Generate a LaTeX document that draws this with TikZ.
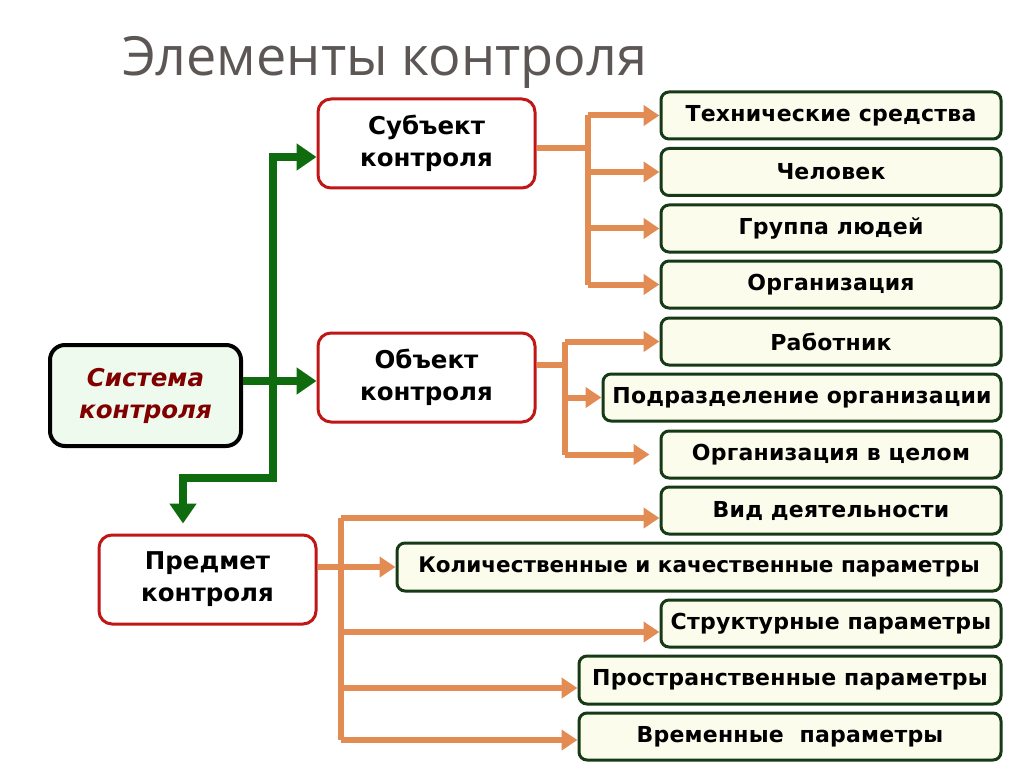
\documentclass[tikz,border=0pt]{standalone}
\usepackage{fontspec}
\setmainfont{DejaVu Sans}
\newfontfamily\titlefont{Open Sans}
\newfontfamily\boxfont[LetterSpace=1]{DejaVu Sans}
\newfontfamily\midfont{DejaVu Sans}
\usetikzlibrary{arrows.meta}
\definecolor{ora}{RGB}{226,140,84}
\definecolor{grn}{RGB}{14,108,14}
\definecolor{dgrn}{RGB}{22,58,22}
\definecolor{rbord}{RGB}{192,22,22}
\definecolor{cream}{RGB}{252,252,236}
\definecolor{lgrn}{RGB}{238,250,238}
\definecolor{dred}{RGB}{128,0,0}
\definecolor{ttl}{RGB}{92,86,84}
\tikzset{
  leaf/.style={draw=dgrn, line width=3pt, fill=cream, rounded corners=8pt, inner sep=0pt,
    font=\boxfont\fontsize{22}{26}\selectfont\bfseries, text=black},
  mid/.style={draw=rbord, line width=3pt, fill=white, rounded corners=13pt, inner sep=0pt,
    minimum width=217pt, minimum height=89pt, align=center,
    font=\midfont\fontsize{24.5}{32}\selectfont\bfseries, text=black},
  sysbox/.style={draw=black, line width=4pt, fill=lgrn, rounded corners=15pt, inner sep=0pt,
    minimum width=191pt, minimum height=101pt, align=center,
    font=\midfont\fontsize{24.5}{32}\selectfont\bfseries\itshape, text=dred},
  oline/.style={draw=ora, line width=6pt},
  oarr/.style={draw=ora, line width=6pt, -{Triangle[length=16pt,width=20pt]}},
  gline/.style={draw=grn, line width=8pt},
  garr/.style={draw=grn, line width=8pt, -{Triangle[length=20pt,width=26pt]}},
}
\begin{document}
\begin{tikzpicture}[x=1pt,y=-1pt]
\useasboundingbox[fill=white] (0,0) rectangle (1024,767);
\node[anchor=base west, text=ttl, font=\titlefont\fontsize{54}{60}\selectfont, inner sep=0pt] (title) at (122,76) {Элементы контроля};

\node[sysbox] (sys) at (145.5,395.5) {Система\\контроля};
\node[mid] (subj) at (426.5,143.5) {Субъект\\контроля};
\node[mid] (obj) at (426.5,377.5) {Объект\\контроля};
\node[mid] (pred) at (207.5,579.5) {Предмет\\контроля};

\node[leaf, minimum width=340pt, minimum height=47pt] (t1) at (831,115.5) {Технические средства};
\node[leaf, minimum width=340pt, minimum height=47pt] (t2) at (831,172) {Человек};
\node[leaf, minimum width=340pt, minimum height=47pt] (t3) at (831,228.5) {Группа людей};
\node[leaf, minimum width=340pt, minimum height=47pt] (t4) at (831,284.5) {Организация};
\node[leaf, minimum width=340pt, minimum height=47pt] (t5) at (831,341.5) {Работник};
\node[leaf, minimum width=398pt, minimum height=47pt] (t6) at (802,397.5) {Подразделение организации};
\node[leaf, minimum width=340pt, minimum height=47pt] (t7) at (831,454.5) {Организация в целом};
\node[leaf, minimum width=340pt, minimum height=47pt] (t8) at (831,510.5) {Вид деятельности};
\node[leaf, minimum width=604pt, minimum height=48pt, font=\midfont\fontsize{21.5}{26}\selectfont\bfseries] (t9) at (699,567) {Количественные и качественные параметры};
\node[leaf, minimum width=340pt, minimum height=47pt] (t10) at (831,623.5) {Структурные параметры};
\node[leaf, minimum width=422pt, minimum height=48pt] (t11) at (790,680) {Пространственные параметры};
\node[leaf, minimum width=422pt, minimum height=47pt] (t12) at (790,736.5) {Временные\ \ параметры};

% green connectors
\coordinate (gmid) at (273,381);
\coordinate (gtop) at (273,157);
\coordinate (gbot) at (273,478);
\coordinate (gbl) at (183,478);
\draw[garr] (sys.east |- gmid) -- (obj.west |- gmid);
\draw[gline, line cap=rect] (gbot) -- (gtop);
\draw[garr] (gtop) -- (subj.west |- gtop);
\draw[gline, line cap=rect] (gbot) -- (gbl);
\draw[garr, shorten >=10pt] (gbl) -- (gbl |- pred.north);

% subject branches
\coordinate (sb) at (588,148);
\draw[oline] (subj.east |- sb) -- (sb);
\draw[oline] (sb |- t1) -- (sb |- t4);
\foreach \t in {t1,t2,t3,t4} \draw[oarr] (sb |- \t) -- (\t.west);

% object branches
\coordinate (ob) at (565,365);
\draw[oline] (obj.east |- ob) -- (ob);
\draw[oline] (ob |- t5) -- (ob |- t7);
\draw[oarr] (ob |- t5) -- (t5.west);
\draw[oarr] (ob |- t6) -- (t6.west);
\draw[oarr, shorten >=10pt] (ob |- t7) -- (t7.west);

% predmet branches
\coordinate (b8) at (341,518);
\coordinate (b9) at (341,567);
\coordinate (b10) at (341,632);
\coordinate (b11) at (341,688);
\coordinate (b12) at (341,740);
\draw[oline] (b8) -- (b12);
\draw[oarr] (pred.east |- b9) -- (t9.west |- b9);
\draw[oarr] (b8) -- (t8.west |- b8);
\draw[oarr] (b10) -- (t10.west |- b10);
\draw[oarr] (b11) -- (t11.west |- b11);
\draw[oarr] (b12) -- (t12.west |- b12);
\end{tikzpicture}
\end{document}
